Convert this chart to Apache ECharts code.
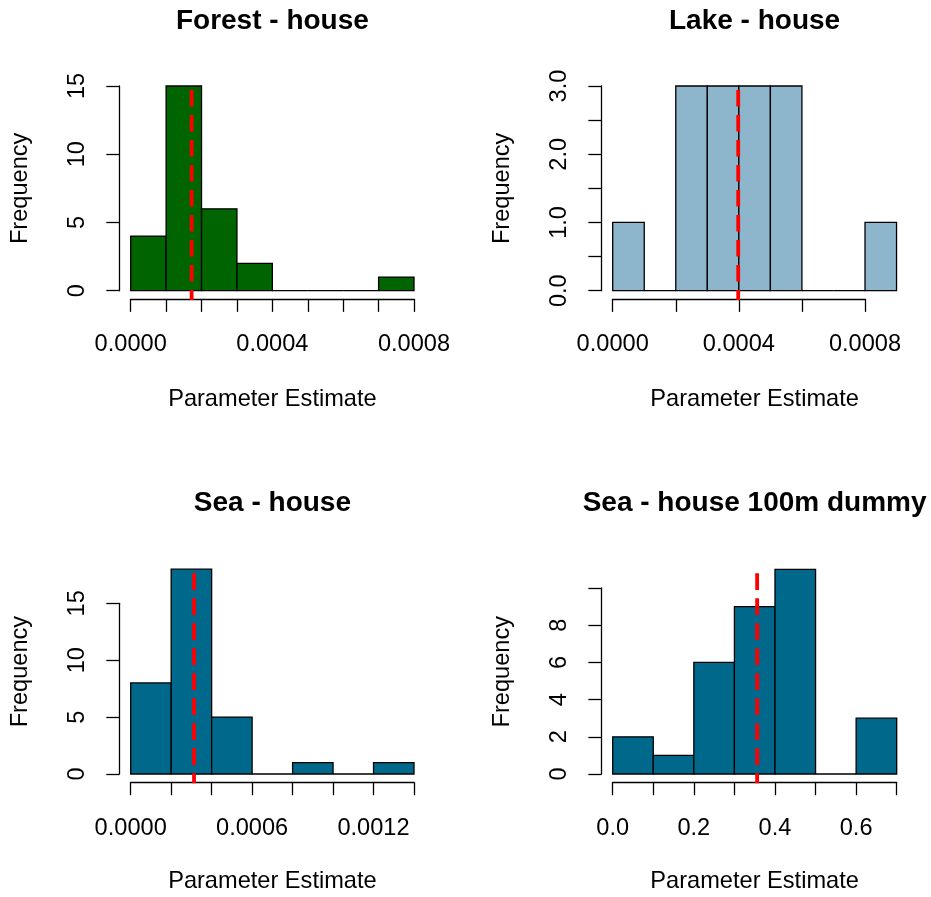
<!DOCTYPE html>
<html>
<head>
<meta charset="utf-8">
<script src="https://cdn.jsdelivr.net/npm/echarts@6/dist/echarts.min.js"></script>
<style>
html,body{margin:0;padding:0;background:#fff;}
#chart{width:931px;height:897px;}
</style>
</head>
<body>
<div id="chart"></div>
<script>
// ---------- data ----------
const forestBreaks = [0, 0.0001, 0.0002, 0.0003, 0.0004, 0.0005, 0.0006, 0.0007, 0.0008];
const forestCounts = [4, 15, 6, 2, 0, 0, 0, 1];
const forestMean = 0.000172;

const lakeBreaks = [0, 0.0001, 0.0002, 0.0003, 0.0004, 0.0005, 0.0006, 0.0007, 0.0008, 0.0009];
const lakeCounts = [1, 0, 3, 3, 3, 3, 0, 0, 1];
const lakeMean = 0.000398;

const seaBreaks = [0, 0.0002, 0.0004, 0.0006, 0.0008, 0.0010, 0.0012, 0.0014];
const seaCounts = [8, 18, 5, 0, 1, 0, 1];
const seaMean = 0.000313;

const dummyBreaks = [0, 0.1, 0.2, 0.3, 0.4, 0.5, 0.6, 0.7];
const dummyCounts = [2, 1, 6, 9, 11, 0, 3];
const dummyMean = 0.356;

const titles = ['Forest - house', 'Lake - house', 'Sea - house', 'Sea - house 100m dummy'];
const xName = 'Parameter Estimate';
const yName = 'Frequency';

// tick labels that are printed (others are unlabeled ticks)
const forestXLabels = [0, 0.0004, 0.0008];
const lakeXLabels = [0, 0.0004, 0.0008];
const seaXLabels = [0, 0.0006, 0.0012];
const dummyXLabels = [0, 0.2, 0.4, 0.6];
const forestYLabels = [0, 5, 10, 15];
const lakeYLabels = [0, 1, 2, 3];
const seaYLabels = [0, 5, 10, 15];
const dummyYLabels = [0, 2, 4, 6, 8];

// ---------- layout / style ----------
const FONT = '"Liberation Sans", Arial, Helvetica, sans-serif';
const FS = 23.6;
const panels = [
  {breaks: forestBreaks, counts: forestCounts, mean: forestMean, color: '#006400',
   xMin: 0, xMax: 0.0008, xInt: 0.0001, xDec: 4, xLab: forestXLabels,
   yMax: 15, yInt: 5, yDec: 0, yLab: forestYLabels,
   grid: {left: 130.7, top: 86, width: 283.3, height: 204.7}, cx: 272.4, row: 0},
  {breaks: lakeBreaks, counts: lakeCounts, mean: lakeMean, color: '#8DB6CD',
   xMin: 0, xMax: 0.0008, xInt: 0.0002, xDec: 4, xLab: lakeXLabels,
   yMax: 3, yInt: 0.5, yDec: 1, yLab: lakeYLabels,
   grid: {left: 612.7, top: 86, width: 252.3, height: 204.7}, cx: 754.6, row: 0},
  {breaks: seaBreaks, counts: seaCounts, mean: seaMean, color: '#00688B',
   xMin: 0, xMax: 0.0014, xInt: 0.0002, xDec: 4, xLab: seaXLabels,
   yMax: 15, yInt: 5, yDec: 0, yLab: seaYLabels,
   grid: {left: 130.7, top: 603.3, width: 283.3, height: 170.7}, cx: 272.4, row: 1},
  {breaks: dummyBreaks, counts: dummyCounts, mean: dummyMean, color: '#00688B',
   xMin: 0, xMax: 0.7, xInt: 0.1, xDec: 1, xLab: dummyXLabels,
   yMax: 10, yInt: 2, yDec: 0, yLab: dummyYLabels,
   grid: {left: 612.7, top: 588, width: 284, height: 186}, cx: 754.6, row: 1}
];

function near(list, v, eps) { return list.some(l => Math.abs(l - v) < eps); }

const grids = [], xAxes = [], yAxes = [], series = [], graphics = [];
const axisLine = {show: true, onZero: false, lineStyle: {color: '#000', width: 1.3}};
const axisTick = {show: true, length: 13, lineStyle: {color: '#000', width: 1.3}};

panels.forEach((p, i) => {
  grids.push(Object.assign({containLabel: false}, p.grid));
  const yPx = p.grid.height / p.yMax;
  const countMax = Math.max(...p.counts);
  const xOff = 0.04 * countMax * yPx;          // R: axis at bottom of 4%-extended region
  const dataXMax = p.breaks[p.breaks.length - 1];
  const xPx = p.grid.width / (p.xMax - p.xMin);
  const yOff = 0.04 * (dataXMax - p.breaks[0]) * xPx;
  const xEps = p.xInt / 1000, yEps = p.yInt / 1000;
  xAxes.push({
    type: 'value', gridIndex: i, min: p.xMin, max: p.xMax, interval: p.xInt,
    offset: xOff, splitLine: {show: false}, axisLine: axisLine, axisTick: axisTick,
    axisLabel: {margin: 34, fontSize: FS, lineHeight: 24, color: '#000', fontFamily: FONT,
      showMinLabel: true, showMaxLabel: true, hideOverlap: false,
      formatter: v => near(p.xLab, v, xEps) ? Number(v).toFixed(p.xDec) : ''}
  });
  yAxes.push({
    type: 'value', gridIndex: i, min: 0, max: p.yMax, interval: p.yInt,
    offset: yOff, splitLine: {show: false}, axisLine: axisLine, axisTick: axisTick,
    axisLabel: {margin: 30, rotate: 90, fontSize: FS, lineHeight: 24, color: '#000', fontFamily: FONT,
      showMinLabel: true, showMaxLabel: true, hideOverlap: false,
      formatter: v => near(p.yLab, v, yEps) ? Number(v).toFixed(p.yDec) : ''}
  });
  series.push({
    type: 'custom', xAxisIndex: i, yAxisIndex: i, clip: false, z: 2,
    data: p.counts.map((c, k) => [p.breaks[k], p.breaks[k + 1], c]),
    encode: {x: [0, 1], y: 2},
    renderItem: (params, api) => {
      const a = api.coord([api.value(0), 0]);
      const b = api.coord([api.value(1), api.value(2)]);
      return {type: 'rect', shape: {x: a[0], y: b[1], width: b[0] - a[0], height: a[1] - b[1]},
        style: {fill: p.color, stroke: '#000', lineWidth: 1.3}};
    }
  });
  series.push({
    type: 'custom', xAxisIndex: i, yAxisIndex: i, clip: false, z: 5,
    data: [[p.mean, 0]],
    encode: {x: 0, y: 1},
    renderItem: (params, api) => {
      const m = api.value(0);
      const bot = api.coord([m, -0.045 * countMax]);
      const top = api.coord([m, 0.983 * countMax]);
      return {type: 'line', shape: {x1: bot[0], y1: bot[1], x2: top[0], y2: top[1]},
        style: {stroke: '#FF0000', lineWidth: 3.8, lineDash: [16.7, 8.3], lineDashOffset: 6.7, lineCap: 'butt'}};
    }
  });
  const rowShift = p.row * 482;
  const plotLeft = p.grid.left - yOff;
  // vertical centre of the R plot region (-0.04*max .. 1.04*max)
  const zeroY = p.grid.top + p.grid.height;
  const midY = zeroY - 0.5 * countMax * yPx;
  graphics.push({type: 'text', x: p.cx, y: 21 + rowShift,
    style: {text: titles[i], font: 'bold 28px ' + FONT, fill: '#000',
      textAlign: 'center', textVerticalAlign: 'middle', align: 'center', verticalAlign: 'middle'}});
  graphics.push({type: 'text', x: p.cx, y: 399 + rowShift,
    style: {text: xName, font: FS + 'px ' + FONT, fill: '#000',
      textAlign: 'center', textVerticalAlign: 'middle', align: 'center', verticalAlign: 'middle'}});
  graphics.push({type: 'text', x: plotLeft - 99, y: midY, rotation: Math.PI / 2,
    style: {text: yName, font: FS + 'px ' + FONT, fill: '#000',
      textAlign: 'center', textVerticalAlign: 'middle', align: 'center', verticalAlign: 'middle'}});
});

const chart = echarts.init(document.getElementById('chart'), null, {renderer: 'canvas'});
chart.setOption({
  animation: false,
  backgroundColor: '#ffffff',
  textStyle: {fontFamily: FONT},
  grid: grids, xAxis: xAxes, yAxis: yAxes, series: series, graphic: graphics
});
</script>
</body>
</html>
